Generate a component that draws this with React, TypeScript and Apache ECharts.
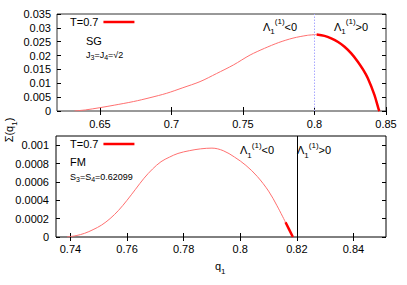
import React, { useEffect, useRef } from "react";
import * as echarts from "echarts";

const FONT = "'Liberation Sans', Arial, Helvetica, sans-serif";

// Top panel (SG, J3=J4=sqrt2)
const sgNegQ = [0.6322, 0.64, 0.65, 0.66, 0.6734, 0.685, 0.6967, 0.708, 0.72, 0.7315, 0.7433, 0.755, 0.765, 0.775, 0.785, 0.795, 0.8015];
const sgNegS = [0, 0.0004, 0.0012, 0.0021, 0.0034, 0.0048, 0.0064, 0.0084, 0.0106, 0.0135, 0.0166, 0.0202, 0.0226, 0.0247, 0.0263, 0.0273, 0.0276];
const sgPosQ = [0.8015, 0.807, 0.8117, 0.8165, 0.821, 0.8257, 0.8303, 0.834, 0.8373, 0.8419, 0.845, 0.8455];
const sgPosS = [0.0276, 0.0271, 0.0262, 0.0249, 0.0232, 0.0208, 0.0178, 0.0149, 0.0118, 0.0058, 0.0004, 0];
const sgBoundary = 0.8015;
const sgXTicks = [0.65, 0.7, 0.75, 0.8, 0.85];
const sgYTicks = [0, 0.005, 0.01, 0.015, 0.02, 0.025, 0.03, 0.035];

// Bottom panel (FM, S3=S4=0.62099)
const fmNegQ = [0.7388, 0.742, 0.745, 0.748, 0.751, 0.754, 0.757, 0.76, 0.763, 0.766, 0.769, 0.772, 0.775, 0.778, 0.782, 0.786, 0.79, 0.794, 0.798, 0.802, 0.806, 0.81, 0.813, 0.816];
const fmNegS = [0, 0.000015, 0.00004, 0.00008, 0.00013, 0.0002, 0.00029, 0.0004, 0.00052, 0.00064, 0.00074, 0.00082, 0.00087, 0.00091, 0.00094, 0.00096, 0.000968, 0.00094, 0.00087, 0.00078, 0.00066, 0.0005, 0.00034, 0.00016];
const fmPosQ = [0.816, 0.8173, 0.8186];
const fmPosS = [0.00016, 0.00008, 0];
const fmBoundary = 0.816;
const fmXTicks = [0.74, 0.76, 0.78, 0.8, 0.82, 0.84];
const fmYTicks = [0, 0.0002, 0.0004, 0.0006, 0.0008, 0.001];

const zip = (a: number[], b: number[]) => a.map((v, i) => [v, b[i]]);
const fmt = (v: number) => String(+v.toFixed(5));

const axisBase = {
  type: "value" as const,
  splitLine: { show: false },
  axisLine: { show: false },
};

function xAx(grid: number, min: number, max: number, ticks: number[], pos: "bottom" | "top", margin: number) {
  return {
    ...axisBase,
    gridIndex: grid,
    position: pos,
    min,
    max,
    axisTick: { show: true, inside: true, length: 4, customValues: ticks, lineStyle: { color: "#000" } },
    axisLabel: {
      show: pos === "bottom",
      customValues: ticks,
      formatter: (v: number) => fmt(v),
      color: "#000",
      fontSize: 11,
      fontFamily: FONT,
      margin,
    },
  };
}
function yAx(grid: number, min: number, max: number, ticks: number[], pos: "left" | "right", margin: number) {
  return {
    ...axisBase,
    gridIndex: grid,
    position: pos,
    min,
    max,
    axisTick: { show: true, inside: true, length: 4, customValues: ticks, lineStyle: { color: "#000" } },
    axisLabel: {
      show: pos === "left",
      customValues: ticks,
      formatter: (v: number) => fmt(v),
      color: "#000",
      fontSize: 11,
      fontFamily: FONT,
      margin,
    },
  };
}

const rich = {
  a: { fontSize: 11, fontFamily: FONT, lineHeight: 18, verticalAlign: "middle", fill: "#000" },
  b: { fontSize: 8, fontFamily: FONT, lineHeight: 14, verticalAlign: "bottom", fill: "#000" },
  c: { fontSize: 8, fontFamily: FONT, lineHeight: 14, verticalAlign: "top", fill: "#000" },
  s: { fontSize: 9, fontFamily: FONT, lineHeight: 12, verticalAlign: "middle", fill: "#000" },
  u: { fontSize: 7, fontFamily: FONT, lineHeight: 8, verticalAlign: "bottom", fill: "#000" },
};

function txt(x: number, y: number, text: string, extra: any = {}) {
  return {
    type: "text",
    x,
    y,
    silent: true,
    ...extra,
    style: {
      text,
      rich,
      fill: "#000",
      font: `11px ${FONT}`,
      align: "left",
      textAlign: "left",
      verticalAlign: "top",
      textVerticalAlign: "top",
      ...(extra.style || {}),
    },
  };
}

export default function App() {
  const ref = useRef<HTMLDivElement>(null);
  useEffect(() => {
    if (!ref.current) return;
    const chart = echarts.init(ref.current, undefined, { renderer: "svg" });
    const option: any = {
      animation: false,
      backgroundColor: "#fff",
      grid: [
        { left: 57, top: 14, width: 329, height: 97, show: true, borderColor: "#333", borderWidth: 1, backgroundColor: "transparent" },
        { left: 56, top: 136, width: 330, height: 101, show: true, borderColor: "#000", borderWidth: 1, backgroundColor: "transparent" },
      ],
      xAxis: [
        xAx(0, 0.62, 0.85, sgXTicks, "bottom", 7),
        xAx(0, 0.62, 0.85, sgXTicks, "top", 7),
        xAx(1, 0.7349, 0.8515, fmXTicks, "bottom", 6),
        xAx(1, 0.7349, 0.8515, fmXTicks, "top", 6),
      ],
      yAxis: [
        yAx(0, 0, 0.035, sgYTicks, "left", 6),
        yAx(0, 0, 0.035, sgYTicks, "right", 6),
        yAx(1, 0, 0.0011, fmYTicks, "left", 7),
        yAx(1, 0, 0.0011, fmYTicks, "right", 7),
      ],
      legend: [
        {
          left: 70, top: 16.5, padding: 0, align: "right", data: ["T=0.7"], icon: "rect",
          itemWidth: 31, itemHeight: 2.5, selectedMode: false,
          textStyle: { fontSize: 11, color: "#000", fontFamily: FONT },
        },
        {
          left: 70, top: 138.5, padding: 0, align: "right", data: ["T=0.7"], icon: "rect",
          itemWidth: 31, itemHeight: 2.5, selectedMode: false,
          textStyle: { fontSize: 11, color: "#000", fontFamily: FONT },
        },
      ],
      series: [
        {
          type: "line", name: "sg-neg", xAxisIndex: 0, yAxisIndex: 0, data: zip(sgNegQ, sgNegS),
          showSymbol: false, smooth: 0.3, lineStyle: { color: "#ff7070", width: 1 }, itemStyle: { color: "#ff7070" },
          markLine: {
            silent: true, symbol: ["none", "none"], label: { show: false },
            lineStyle: { color: "#a8a8ff", type: [1.5, 1.5], width: 1 },
            data: [{ xAxis: sgBoundary }],
          },
        },
        {
          type: "line", name: "T=0.7", xAxisIndex: 0, yAxisIndex: 0, data: zip(sgPosQ, sgPosS),
          showSymbol: false, smooth: 0.3, lineStyle: { color: "#ff0000", width: 2.5 }, itemStyle: { color: "#ff0000" },
        },
        {
          type: "line", name: "fm-neg", xAxisIndex: 2, yAxisIndex: 2, data: zip(fmNegQ, fmNegS),
          showSymbol: false, smooth: 0.35, lineStyle: { color: "#ff7070", width: 1 }, itemStyle: { color: "#ff7070" },
          markLine: {
            silent: true, symbol: ["none", "none"], label: { show: false },
            lineStyle: { color: "#000", type: "solid", width: 1 },
            data: [{ xAxis: fmBoundary }],
          },
        },
        {
          type: "line", name: "T=0.7", xAxisIndex: 2, yAxisIndex: 2, data: zip(fmPosQ, fmPosS),
          showSymbol: false, lineStyle: { color: "#ff0000", width: 2.5 }, itemStyle: { color: "#ff0000" },
        },
      ],
      graphic: [
        txt(86, 35, "SG"),
        txt(86, 49, "{s|J}{u|3}{s|=J}{u|4}{s|=√2}"),
        txt(70, 156, "FM"),
        txt(70, 171, "{s|S}{u|3}{s|=S}{u|4}{s|=0.62099}"),
        txt(263, 17.5, "{a|Λ}{b|1}{c|(1)}{a|<0}"),
        txt(334, 17.5, "{a|Λ}{b|1}{c|(1)}{a|>0}"),
        txt(240, 141, "{a|Λ}{b|1}{c|(1)}{a|<0}"),
        txt(297, 141, "{a|Λ}{b|1}{c|(1)}{a|>0}"),
        {
          type: "text", x: 9, y: 130, rotation: Math.PI / 2, silent: true,
          style: {
            text: "{a|Σ(q}{b|1}{a|)}", rich, fill: "#000", font: `11px ${FONT}`,
            align: "center", textAlign: "center", verticalAlign: "middle", textVerticalAlign: "middle",
          },
        },
        txt(215, 257, "{a|q}{b|1}"),
      ],
    };
    chart.setOption(option);
    return () => chart.dispose();
  }, []);
  return (
    <div
      ref={ref}
      style={{ position: "fixed", left: 0, top: 0, width: 407, height: 285 }}
    />
  );
}
